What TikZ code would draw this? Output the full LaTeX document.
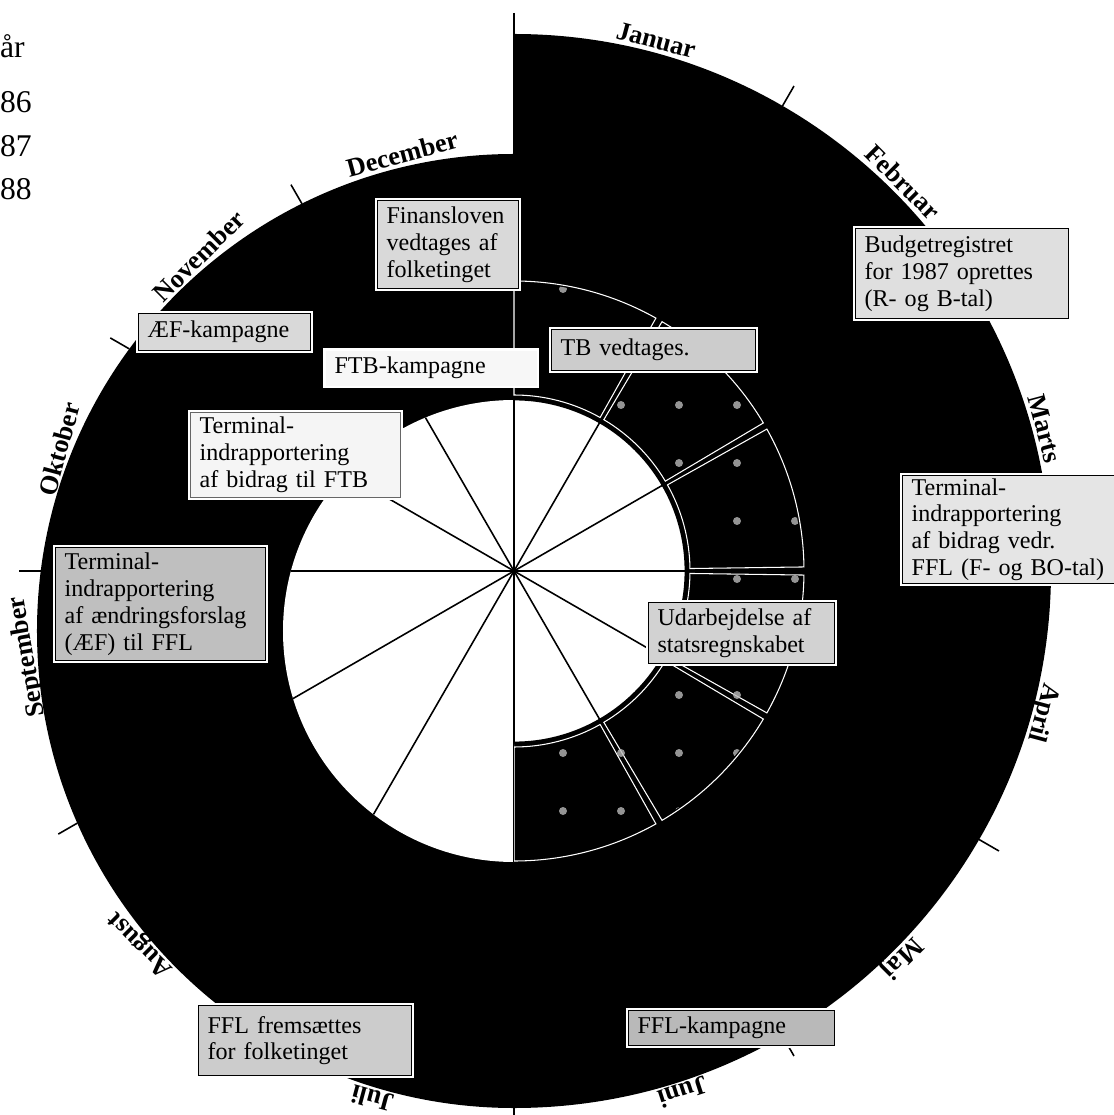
\documentclass[tikz,border=0pt]{standalone}
\usepackage{fontspec}
\setmainfont{Liberation Serif}
\usetikzlibrary{positioning}

\begin{document}
\begin{tikzpicture}[
    % One unit is one pixel of the drawing, the hub of the spokes is the origin
    x=0.02cm, y=0.02cm,
    % Style for the grey text boxes (thin frame with a white halo)
    tag_box/.style={
        rectangle,
        draw=black,
        line width=0.7pt,
        preaction={draw=white, line width=2.6pt},
        anchor=north west,
        align=left,
        inner xsep=0.18cm,
        inner ysep=0pt,
        font=\fontsize{13.7}{15.3}\selectfont
    },
    % Style for the month names round the rim
    month_label/.style={
        anchor=base,
        inner sep=0pt,
        font=\fontsize{15}{15}\selectfont\bfseries
    },
    % Style for the shaded sectors of the inner ring
    ring_sector/.style={
        fill=black,
        draw=white,
        line width=0.6pt
    },
    speck/.style={fill=gray!55, draw=none, opacity=0.8},
    rim_tick/.style={line width=0.9pt},
    spoke/.style={line width=0.9pt},
    % Style for the year list in the corner
    year_label/.style={
        anchor=base east,
        inner sep=0pt,
        font=\fontsize{18}{18}\selectfont
    }
]

\useasboundingbox (-514,-544) rectangle (599,571);

% 1. The vertical axis through the hub
\draw[spoke] (0,558) -- (0,-544);

% 2. The black spiral band (right half round the hub, left half 60 px lower)
\fill[black] (0,537) arc[start angle=90, end angle=-90, radius=537]
    arc[start angle=-90, end angle=-270, radius=477] -- cycle;

% 3. Month ticks and month names
\foreach \a in {60,30,0,-30,-60}
    \draw[rim_tick] (\a:537) -- (\a:560);
\foreach \a in {-120,-150,180,150,120} {
    \pgfmathsetmacro\edge{10*(-6*sin(\a)+sqrt(36*sin(\a)^2+2239.29))}
    \pgfmathsetmacro\tip{\edge+22}
    \draw[rim_tick] (\a:\edge) -- (\a:\tip);
}
\foreach \a/\m/\gap in {75/Januar/4, 45/Februar/4, 15/Marts/4, -15/April/4, -45/Maj/4, -72/Juni/2}
    \node[month_label, rotate=\a-90] (\m) at (\a:537+\gap) {\m};
\foreach \a/\m/\gap in {-105/Juli/3, -135/August/4, -170/September/4, 165/Oktober/4, 135/November/4, 105/December/4} {
    \pgfmathsetmacro\edge{10*(-6*sin(\a)+sqrt(36*sin(\a)^2+2239.29))}
    \pgfmathsetmacro\rr{\edge+\gap}
    \node[month_label, rotate=\a-90] (\m) at (\a:\rr) {\m};
}

% 4. The shaded ring, January to June
\foreach \a/\b in {90/60.7, 59.3/30.7, 29.3/0.8, -0.8/-29.3, -30.7/-59.3, -60.7/-90}
    \draw[ring_sector] (\a:176) arc[start angle=\a, end angle=\b, radius=176]
        -- (\b:290) arc[start angle=\b, end angle=\a, radius=290] -- cycle;
% screen specks of the shading
\begin{scope}
    \clip (90:178) arc[start angle=90, end angle=-90, radius=178]
        -- (-90:288) arc[start angle=-90, end angle=90, radius=288] -- cycle;
    \foreach \i in {0,...,5}
        \foreach \j in {-5,...,5}
            \fill[speck] (-9+58*\i, -8+58*\j) circle[radius=4];
\end{scope}

% 5. The white centre with its twelve spokes
\fill[white] (0,172) arc[start angle=90, end angle=-90, radius=172]
    -- (0,-291) arc[start angle=-90, end angle=-270, radius=231] -- cycle;
\begin{scope}
    \clip (0,172) arc[start angle=90, end angle=-90, radius=172]
        -- (0,-291) arc[start angle=-90, end angle=-270, radius=231] -- cycle;
    \foreach \a in {0,30,...,330}
        \draw[spoke] (0,0) -- (\a:320);
\end{scope}
\draw[line width=1.6pt] (0,172) arc[start angle=90, end angle=-90, radius=172];

% 6. The text boxes
\node[tag_box, fill=gray!30, text width=2.46cm, minimum height=1.76cm] (finanslov) at (-137,371)
    {Finansloven\\vedtages af\\folketinget};
\node[tag_box, fill=gray!40, text width=3.72cm, minimum height=0.82cm] (tb) at (37,242)
    {TB vedtages.};
\node[tag_box, fill=gray!6, draw=none, text width=3.86cm, minimum height=0.7cm] (ftb_kamp) at (-189,221)
    {FTB-kampagne};
\node[tag_box, fill=gray!30, text width=3.08cm, minimum height=0.74cm] (aef_kamp) at (-376,258)
    {ÆF-kampagne};
\node[tag_box, fill=gray!8, draw=black!60, text width=3.84cm, minimum height=1.7cm] (term_ftb) at (-324,159)
    {Terminal-\\indrapportering\\af bidrag til FTB};
\node[tag_box, fill=gray!50, text width=3.84cm, minimum height=2.26cm] (term_aef) at (-459,24)
    {Terminal-\\indrapportering\\af ændringsforslag\\(ÆF) til FFL};
\node[tag_box, fill=gray!25, text width=3.9cm, minimum height=1.8cm] (budget) at (341,343)
    {Budgetregistret\\for 1987 oprettes\\(R- og B-tal)};
\node[tag_box, fill=gray!20, text width=4.5cm, minimum height=2.16cm] (term_ffl) at (388,96)
    {Terminal-\\indrapportering\\af bidrag vedr.\\FFL (F- og BO-tal)};
\node[tag_box, fill=gray!35, text width=3.36cm, minimum height=1.22cm] (regnskab) at (134,-31)
    {Udarbejdelse af\\statsregnskabet};
\node[tag_box, fill=gray!40, text width=3.9cm, minimum height=1.4cm] (ffl_frem) at (-316,-434)
    {FFL fremsættes\\for folketinget};
\node[tag_box, fill=gray!55, text width=3.76cm, minimum height=0.7cm] (ffl_kamp) at (114,-439)
    {FFL-kampagne};

% 7. The years in the corner
\node[year_label] (yr) at (-489,513) {år};
\node[year_label] (y86) at (-482,458) {86};
\node[year_label] (y87) at (-482,414) {87};
\node[year_label] (y88) at (-482,371) {88};

\end{tikzpicture}
\end{document}
